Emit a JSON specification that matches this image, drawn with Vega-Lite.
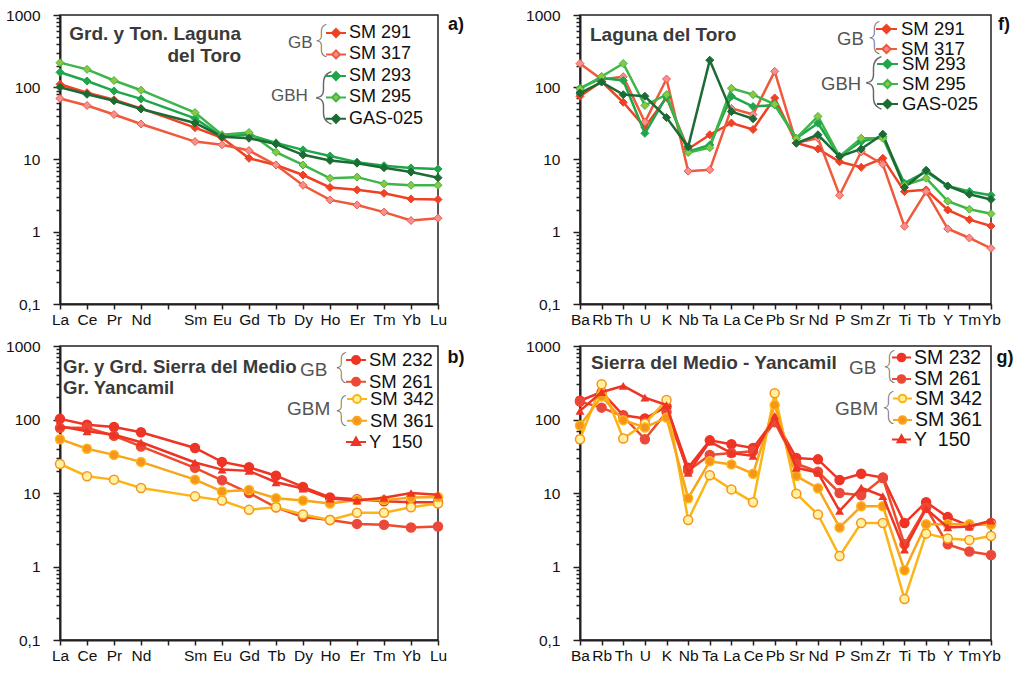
{
  "$schema": "https://vega.github.io/schema/vega-lite/v6.json",
  "autosize": {"type": "pad"},
  "padding": {"left": 4, "top": 7, "right": 5, "bottom": 5},
  "background": "white",
  "columns": 2,
  "spacing": {"row": 42, "column": 142},
  "bounds": "flush",
  "config": {
    "font": "Liberation Sans",
    "view": {"stroke": "#231f20", "strokeWidth": 1.5},
    "axis": {"grid": false, "domainColor": "#231f20", "domainWidth": 2, "tickColor": "#231f20", "tickWidth": 1.5, "labelFont": "Liberation Sans", "labelFontSize": 15.5, "labelColor": "#111111"},
    "legend": {"labelFont": "Liberation Sans", "titleFont": "Liberation Sans", "titleFontWeight": "normal", "titleColor": "#555555", "labelColor": "#111111", "orient": "none", "padding": 0, "titleOrient": "left", "titleAnchor": "middle", "titleBaseline": "middle", "symbolStrokeWidth": 2, "labelOffset": 2, "labelLimit": 200}
  },
  "datasets": {
    "a": [
      {"s":"SM 291","el":"La","v":110},{"s":"SM 291","el":"Ce","v":84},{"s":"SM 291","el":"Pr","v":67},{"s":"SM 291","el":"Nd","v":51},{"s":"SM 291","el":"Sm","v":27.6},{"s":"SM 291","el":"Eu","v":20},{"s":"SM 291","el":"Gd","v":10.4},{"s":"SM 291","el":"Tb","v":8.4},{"s":"SM 291","el":"Dy","v":6.1},{"s":"SM 291","el":"Ho","v":4.1},{"s":"SM 291","el":"Er","v":3.8},{"s":"SM 291","el":"Tm","v":3.4},{"s":"SM 291","el":"Yb","v":2.85},{"s":"SM 291","el":"Lu","v":2.8},
      {"s":"SM 317","el":"La","v":70},{"s":"SM 317","el":"Ce","v":56},{"s":"SM 317","el":"Pr","v":42},{"s":"SM 317","el":"Nd","v":31},{"s":"SM 317","el":"Sm","v":17.7},{"s":"SM 317","el":"Eu","v":16},{"s":"SM 317","el":"Gd","v":13.3},{"s":"SM 317","el":"Tb","v":8.4},{"s":"SM 317","el":"Dy","v":4.4},{"s":"SM 317","el":"Ho","v":2.76},{"s":"SM 317","el":"Er","v":2.35},{"s":"SM 317","el":"Tm","v":1.87},{"s":"SM 317","el":"Yb","v":1.43},{"s":"SM 317","el":"Lu","v":1.54},
      {"s":"SM 293","el":"La","v":161},{"s":"SM 293","el":"Ce","v":122},{"s":"SM 293","el":"Pr","v":89},{"s":"SM 293","el":"Nd","v":69},{"s":"SM 293","el":"Sm","v":37},{"s":"SM 293","el":"Eu","v":21},{"s":"SM 293","el":"Gd","v":22},{"s":"SM 293","el":"Tb","v":17},{"s":"SM 293","el":"Dy","v":13.6},{"s":"SM 293","el":"Ho","v":11.2},{"s":"SM 293","el":"Er","v":9.2},{"s":"SM 293","el":"Tm","v":8.2},{"s":"SM 293","el":"Yb","v":7.65},{"s":"SM 293","el":"Lu","v":7.4},
      {"s":"SM 295","el":"La","v":219},{"s":"SM 295","el":"Ce","v":177},{"s":"SM 295","el":"Pr","v":124},{"s":"SM 295","el":"Nd","v":91},{"s":"SM 295","el":"Sm","v":44.6},{"s":"SM 295","el":"Eu","v":22},{"s":"SM 295","el":"Gd","v":23.6},{"s":"SM 295","el":"Tb","v":12.6},{"s":"SM 295","el":"Dy","v":8.4},{"s":"SM 295","el":"Ho","v":5.5},{"s":"SM 295","el":"Er","v":5.7},{"s":"SM 295","el":"Tm","v":4.6},{"s":"SM 295","el":"Yb","v":4.4},{"s":"SM 295","el":"Lu","v":4.4},
      {"s":"GAS-025","el":"La","v":100},{"s":"GAS-025","el":"Ce","v":80},{"s":"GAS-025","el":"Pr","v":65},{"s":"GAS-025","el":"Nd","v":50},{"s":"GAS-025","el":"Sm","v":32},{"s":"GAS-025","el":"Eu","v":20.7},{"s":"GAS-025","el":"Gd","v":19.7},{"s":"GAS-025","el":"Tb","v":16.4},{"s":"GAS-025","el":"Dy","v":11.6},{"s":"GAS-025","el":"Ho","v":9.7},{"s":"GAS-025","el":"Er","v":8.9},{"s":"GAS-025","el":"Tm","v":7.7},{"s":"GAS-025","el":"Yb","v":6.7},{"s":"GAS-025","el":"Lu","v":5.6}
    ],
    "f": [
      {"s":"SM 291","el":"Ba","v":75},{"s":"SM 291","el":"Rb","v":120},{"s":"SM 291","el":"Th","v":62},{"s":"SM 291","el":"U","v":28},{"s":"SM 291","el":"K","v":72},{"s":"SM 291","el":"Nb","v":14},{"s":"SM 291","el":"Ta","v":22},{"s":"SM 291","el":"La","v":32},{"s":"SM 291","el":"Ce","v":26},{"s":"SM 291","el":"Pb","v":71},{"s":"SM 291","el":"Sr","v":17},{"s":"SM 291","el":"Nd","v":14},{"s":"SM 291","el":"P","v":9.3},{"s":"SM 291","el":"Sm","v":7.8},{"s":"SM 291","el":"Zr","v":10.4},{"s":"SM 291","el":"Ti","v":3.6},{"s":"SM 291","el":"Tb","v":3.8},{"s":"SM 291","el":"Y","v":2.0},{"s":"SM 291","el":"Tm","v":1.47},{"s":"SM 291","el":"Yb","v":1.2},
      {"s":"SM 317","el":"Ba","v":213},{"s":"SM 317","el":"Rb","v":128},{"s":"SM 317","el":"Th","v":140},{"s":"SM 317","el":"U","v":33},{"s":"SM 317","el":"K","v":130},{"s":"SM 317","el":"Nb","v":6.9},{"s":"SM 317","el":"Ta","v":7.2},{"s":"SM 317","el":"La","v":51},{"s":"SM 317","el":"Ce","v":42},{"s":"SM 317","el":"Pb","v":166},{"s":"SM 317","el":"Sr","v":17},{"s":"SM 317","el":"Nd","v":19.7},{"s":"SM 317","el":"P","v":3.2},{"s":"SM 317","el":"Sm","v":12.8},{"s":"SM 317","el":"Zr","v":8.6},{"s":"SM 317","el":"Ti","v":1.19},{"s":"SM 317","el":"Tb","v":3.6},{"s":"SM 317","el":"Y","v":1.1},{"s":"SM 317","el":"Tm","v":0.82},{"s":"SM 317","el":"Yb","v":0.59},
      {"s":"SM 293","el":"Ba","v":97},{"s":"SM 293","el":"Rb","v":134},{"s":"SM 293","el":"Th","v":124},{"s":"SM 293","el":"U","v":23},{"s":"SM 293","el":"K","v":75},{"s":"SM 293","el":"Nb","v":12.8},{"s":"SM 293","el":"Ta","v":15.9},{"s":"SM 293","el":"La","v":75},{"s":"SM 293","el":"Ce","v":54},{"s":"SM 293","el":"Pb","v":57},{"s":"SM 293","el":"Sr","v":19.7},{"s":"SM 293","el":"Nd","v":31.8},{"s":"SM 293","el":"P","v":11},{"s":"SM 293","el":"Sm","v":17.7},{"s":"SM 293","el":"Zr","v":20.8},{"s":"SM 293","el":"Ti","v":4.7},{"s":"SM 293","el":"Tb","v":6.8},{"s":"SM 293","el":"Y","v":4.3},{"s":"SM 293","el":"Tm","v":3.6},{"s":"SM 293","el":"Yb","v":3.2},
      {"s":"SM 295","el":"Ba","v":95},{"s":"SM 295","el":"Rb","v":141},{"s":"SM 295","el":"Th","v":213},{"s":"SM 295","el":"U","v":56},{"s":"SM 295","el":"K","v":79},{"s":"SM 295","el":"Nb","v":12.5},{"s":"SM 295","el":"Ta","v":14.6},{"s":"SM 295","el":"La","v":97},{"s":"SM 295","el":"Ce","v":79},{"s":"SM 295","el":"Pb","v":58},{"s":"SM 295","el":"Sr","v":19.7},{"s":"SM 295","el":"Nd","v":39.5},{"s":"SM 295","el":"P","v":11},{"s":"SM 295","el":"Sm","v":19.7},{"s":"SM 295","el":"Zr","v":19.7},{"s":"SM 295","el":"Ti","v":4.4},{"s":"SM 295","el":"Tb","v":5.5},{"s":"SM 295","el":"Y","v":2.65},{"s":"SM 295","el":"Tm","v":2.05},{"s":"SM 295","el":"Yb","v":1.78},
      {"s":"GAS-025","el":"Ba","v":83},{"s":"GAS-025","el":"Rb","v":118},{"s":"GAS-025","el":"Th","v":79},{"s":"GAS-025","el":"U","v":75},{"s":"GAS-025","el":"K","v":38},{"s":"GAS-025","el":"Nb","v":15},{"s":"GAS-025","el":"Ta","v":237},{"s":"GAS-025","el":"La","v":46},{"s":"GAS-025","el":"Ce","v":36.6},{"s":"GAS-025","el":"Pb","v":null},{"s":"GAS-025","el":"Sr","v":16.8},{"s":"GAS-025","el":"Nd","v":22},{"s":"GAS-025","el":"P","v":11},{"s":"GAS-025","el":"Sm","v":14},{"s":"GAS-025","el":"Zr","v":22.4},{"s":"GAS-025","el":"Ti","v":4.1},{"s":"GAS-025","el":"Tb","v":7.1},{"s":"GAS-025","el":"Y","v":4.3},{"s":"GAS-025","el":"Tm","v":3.3},{"s":"GAS-025","el":"Yb","v":2.8}
    ],
    "b": [
      {"s":"SM 232","el":"La","v":102},{"s":"SM 232","el":"Ce","v":85},{"s":"SM 232","el":"Pr","v":79},{"s":"SM 232","el":"Nd","v":67},{"s":"SM 232","el":"Sm","v":41},{"s":"SM 232","el":"Eu","v":26.5},{"s":"SM 232","el":"Gd","v":22.4},{"s":"SM 232","el":"Tb","v":17.2},{"s":"SM 232","el":"Dy","v":12.1},{"s":"SM 232","el":"Ho","v":8.7},{"s":"SM 232","el":"Er","v":8.2},{"s":"SM 232","el":"Tm","v":7.7},{"s":"SM 232","el":"Yb","v":7.5},{"s":"SM 232","el":"Lu","v":7.5},
      {"s":"SM 261","el":"La","v":77},{"s":"SM 261","el":"Ce","v":77},{"s":"SM 261","el":"Pr","v":60},{"s":"SM 261","el":"Nd","v":43},{"s":"SM 261","el":"Sm","v":22},{"s":"SM 261","el":"Eu","v":14.9},{"s":"SM 261","el":"Gd","v":10},{"s":"SM 261","el":"Tb","v":6.4},{"s":"SM 261","el":"Dy","v":4.7},{"s":"SM 261","el":"Ho","v":4.3},{"s":"SM 261","el":"Er","v":3.8},{"s":"SM 261","el":"Tm","v":3.7},{"s":"SM 261","el":"Yb","v":3.4},{"s":"SM 261","el":"Lu","v":3.5},
      {"s":"SM 342","el":"La","v":24.8},{"s":"SM 342","el":"Ce","v":16.9},{"s":"SM 342","el":"Pr","v":15.2},{"s":"SM 342","el":"Nd","v":11.7},{"s":"SM 342","el":"Sm","v":9},{"s":"SM 342","el":"Eu","v":7.9},{"s":"SM 342","el":"Gd","v":5.9},{"s":"SM 342","el":"Tb","v":6.4},{"s":"SM 342","el":"Dy","v":5.1},{"s":"SM 342","el":"Ho","v":4.3},{"s":"SM 342","el":"Er","v":5.4},{"s":"SM 342","el":"Tm","v":5.4},{"s":"SM 342","el":"Yb","v":6.4},{"s":"SM 342","el":"Lu","v":7.2},
      {"s":"SM 361","el":"La","v":54},{"s":"SM 361","el":"Ce","v":40},{"s":"SM 361","el":"Pr","v":33},{"s":"SM 361","el":"Nd","v":26.5},{"s":"SM 361","el":"Sm","v":15.2},{"s":"SM 361","el":"Eu","v":10.5},{"s":"SM 361","el":"Gd","v":11},{"s":"SM 361","el":"Tb","v":8.5},{"s":"SM 361","el":"Dy","v":7.9},{"s":"SM 361","el":"Ho","v":7.2},{"s":"SM 361","el":"Er","v":8},{"s":"SM 361","el":"Tm","v":8},{"s":"SM 361","el":"Yb","v":8.7},{"s":"SM 361","el":"Lu","v":8.8},
      {"s":"Y\u00a0\u00a0150","el":"La","v":81},{"s":"Y\u00a0\u00a0150","el":"Ce","v":69},{"s":"Y\u00a0\u00a0150","el":"Pr","v":62},{"s":"Y\u00a0\u00a0150","el":"Nd","v":49},{"s":"Y\u00a0\u00a0150","el":"Sm","v":26},{"s":"Y\u00a0\u00a0150","el":"Eu","v":20.8},{"s":"Y\u00a0\u00a0150","el":"Gd","v":20},{"s":"Y\u00a0\u00a0150","el":"Tb","v":14},{"s":"Y\u00a0\u00a0150","el":"Dy","v":11.5},{"s":"Y\u00a0\u00a0150","el":"Ho","v":8.4},{"s":"Y\u00a0\u00a0150","el":"Er","v":7.9},{"s":"Y\u00a0\u00a0150","el":"Tm","v":8.6},{"s":"Y\u00a0\u00a0150","el":"Yb","v":10},{"s":"Y\u00a0\u00a0150","el":"Lu","v":9.5}
    ],
    "g": [
      {"s":"SM 232","el":"Ba","v":180},{"s":"SM 232","el":"Rb","v":236},{"s":"SM 232","el":"Th","v":114},{"s":"SM 232","el":"U","v":103},{"s":"SM 232","el":"K","v":150},{"s":"SM 232","el":"Nb","v":22},{"s":"SM 232","el":"Ta","v":52},{"s":"SM 232","el":"La","v":46},{"s":"SM 232","el":"Ce","v":41},{"s":"SM 232","el":"Pb","v":100},{"s":"SM 232","el":"Sr","v":30},{"s":"SM 232","el":"Nd","v":28.7},{"s":"SM 232","el":"P","v":15},{"s":"SM 232","el":"Sm","v":18.3},{"s":"SM 232","el":"Zr","v":16.2},{"s":"SM 232","el":"Ti","v":3.9},{"s":"SM 232","el":"Tb","v":7.5},{"s":"SM 232","el":"Y","v":4.7},{"s":"SM 232","el":"Tm","v":3.6},{"s":"SM 232","el":"Yb","v":3.9},
      {"s":"SM 261","el":"Ba","v":175},{"s":"SM 261","el":"Rb","v":145},{"s":"SM 261","el":"Th","v":110},{"s":"SM 261","el":"U","v":54},{"s":"SM 261","el":"K","v":126},{"s":"SM 261","el":"Nb","v":20},{"s":"SM 261","el":"Ta","v":33},{"s":"SM 261","el":"La","v":35},{"s":"SM 261","el":"Ce","v":37},{"s":"SM 261","el":"Pb","v":92},{"s":"SM 261","el":"Sr","v":25},{"s":"SM 261","el":"Nd","v":19.5},{"s":"SM 261","el":"P","v":10},{"s":"SM 261","el":"Sm","v":9.3},{"s":"SM 261","el":"Zr","v":16},{"s":"SM 261","el":"Ti","v":2.0},{"s":"SM 261","el":"Tb","v":6.3},{"s":"SM 261","el":"Y","v":2.0},{"s":"SM 261","el":"Tm","v":1.6},{"s":"SM 261","el":"Yb","v":1.43},
      {"s":"SM 342","el":"Ba","v":54},{"s":"SM 342","el":"Rb","v":301},{"s":"SM 342","el":"Th","v":55},{"s":"SM 342","el":"U","v":88},{"s":"SM 342","el":"K","v":184},{"s":"SM 342","el":"Nb","v":4.3},{"s":"SM 342","el":"Ta","v":17.4},{"s":"SM 342","el":"La","v":11.2},{"s":"SM 342","el":"Ce","v":7.5},{"s":"SM 342","el":"Pb","v":228},{"s":"SM 342","el":"Sr","v":9.8},{"s":"SM 342","el":"Nd","v":5.1},{"s":"SM 342","el":"P","v":1.39},{"s":"SM 342","el":"Sm","v":3.9},{"s":"SM 342","el":"Zr","v":3.9},{"s":"SM 342","el":"Ti","v":0.36},{"s":"SM 342","el":"Tb","v":2.8},{"s":"SM 342","el":"Y","v":2.4},{"s":"SM 342","el":"Tm","v":2.3},{"s":"SM 342","el":"Yb","v":2.6},
      {"s":"SM 361","el":"Ba","v":83},{"s":"SM 361","el":"Rb","v":205},{"s":"SM 361","el":"Th","v":98},{"s":"SM 361","el":"U","v":78},{"s":"SM 361","el":"K","v":106},{"s":"SM 361","el":"Nb","v":8.5},{"s":"SM 361","el":"Ta","v":27},{"s":"SM 361","el":"La","v":24.5},{"s":"SM 361","el":"Ce","v":18.3},{"s":"SM 361","el":"Pb","v":157},{"s":"SM 361","el":"Sr","v":17},{"s":"SM 361","el":"Nd","v":11.6},{"s":"SM 361","el":"P","v":3.4},{"s":"SM 361","el":"Sm","v":6.6},{"s":"SM 361","el":"Zr","v":6.6},{"s":"SM 361","el":"Ti","v":0.89},{"s":"SM 361","el":"Tb","v":3.75},{"s":"SM 361","el":"Y","v":3.75},{"s":"SM 361","el":"Tm","v":3.75},{"s":"SM 361","el":"Yb","v":3.7},
      {"s":"Y\u00a0\u00a0150","el":"Ba","v":131},{"s":"Y\u00a0\u00a0150","el":"Rb","v":236},{"s":"Y\u00a0\u00a0150","el":"Th","v":286},{"s":"Y\u00a0\u00a0150","el":"U","v":198},{"s":"Y\u00a0\u00a0150","el":"K","v":157},{"s":"Y\u00a0\u00a0150","el":"Nb","v":18.8},{"s":"Y\u00a0\u00a0150","el":"Ta","v":50},{"s":"Y\u00a0\u00a0150","el":"La","v":35},{"s":"Y\u00a0\u00a0150","el":"Ce","v":32},{"s":"Y\u00a0\u00a0150","el":"Pb","v":112},{"s":"Y\u00a0\u00a0150","el":"Sr","v":22},{"s":"Y\u00a0\u00a0150","el":"Nd","v":19},{"s":"Y\u00a0\u00a0150","el":"P","v":5.7},{"s":"Y\u00a0\u00a0150","el":"Sm","v":11.8},{"s":"Y\u00a0\u00a0150","el":"Zr","v":9.1},{"s":"Y\u00a0\u00a0150","el":"Ti","v":1.7},{"s":"Y\u00a0\u00a0150","el":"Tb","v":6.1},{"s":"Y\u00a0\u00a0150","el":"Y","v":3.4},{"s":"Y\u00a0\u00a0150","el":"Tm","v":3.5},{"s":"Y\u00a0\u00a0150","el":"Yb","v":4.2}
    ]
  },
  "concat": [
    {
      "width": 378, "height": 289,
      "data": {"name": "a"},
      "encoding": {
        "x": {"field": "el", "type": "ordinal", "scale": {"type": "point", "padding": 0, "domain": ["La","Ce","Pr","Nd","Pm","Sm","Eu","Gd","Tb","Dy","Ho","Er","Tm","Yb","Lu"]}, "axis": {"title": null, "labelAngle": 0, "labelOverlap": false, "tickSize": 5, "labelPadding": 3, "labelExpr": "datum.value == 'Pm' ? '' : datum.value"}},
        "y": {"field": "v", "type": "quantitative", "scale": {"type": "log", "domain": [0.1, 1000], "nice": false}, "axis": {"title": null, "labelOverlap": false, "values": [0.1,0.2,0.3,0.4,0.5,0.6,0.7,0.8,0.9,1,2,3,4,5,6,7,8,9,10,20,30,40,50,60,70,80,90,100,200,300,400,500,600,700,800,900,1000], "labelExpr": "datum.value == 0.1 ? '0,1' : (indexof([1,10,100,1000], datum.value) >= 0 ? '' + datum.value : '')", "tickSize": {"condition": {"test": "indexof([0.1,1,10,100,1000], datum.value) >= 0", "value": 7}, "value": 4}, "labelPadding": 13}},
        "order": {"value": null}
      },
      "layer": [
        {
          "transform": [{"filter": {"field": "s", "oneOf": ["SM 291", "SM 317"]}}],
          "layer": [
            {"mark": {"type": "line", "strokeWidth": 2.5, "invalid": "break-paths-filter-domains"},
             "encoding": {"color": {"field": "s", "type": "nominal", "scale": {"domain": ["SM 291", "SM 317"], "range": ["#ef4123", "#f05a3c"]},
               "legend": {"title": "GB", "legendX": 228, "legendY": 7, "titlePadding": 12, "titleFontSize": 17, "labelFontSize": 18, "rowPadding": 1.4, "symbolSize": 400, "symbolType": "M-1,0L-0.4,0M0.4,0L1,0M0,-0.4L0.4,0L0,0.4L-0.4,0Z",
                 "encode": {"symbols": {"update": {"fill": {"signal": "{'SM 291':'#ef4123','SM 317':'#f48f96'}[datum.value]"}}}}}}}},
            {"mark": {"type": "point", "shape": "diamond", "filled": true, "size": 64, "strokeWidth": 1, "opacity": 1},
             "encoding": {"fill": {"field": "s", "type": "nominal", "scale": {"domain": ["SM 291", "SM 317"], "range": ["#ef4123", "#f48f96"]}, "legend": null},
                          "stroke": {"field": "s", "type": "nominal", "scale": {"domain": ["SM 291", "SM 317"], "range": ["#ef4123", "#f05a3c"]}, "legend": null}}}
          ]
        },
        {
          "transform": [{"filter": {"field": "s", "oneOf": ["SM 293", "SM 295", "GAS-025"]}}],
          "layer": [
            {"mark": {"type": "line", "strokeWidth": 2.5, "invalid": "break-paths-filter-domains"},
             "encoding": {"color": {"field": "s", "type": "nominal", "scale": {"domain": ["SM 293", "SM 295", "GAS-025"], "range": ["#1fa64b", "#3db54a", "#1c6b35"]},
               "legend": {"title": "GBH", "legendX": 211, "legendY": 50, "titlePadding": 17, "titleFontSize": 17, "labelFontSize": 18, "rowPadding": 1.4, "symbolSize": 400, "symbolType": "M-1,0L-0.4,0M0.4,0L1,0M0,-0.4L0.4,0L0,0.4L-0.4,0Z",
                 "encode": {"symbols": {"update": {"fill": {"signal": "{'SM 293':'#1fa64b','SM 295':'#8dc63f','GAS-025':'#1c6b35'}[datum.value]"}}}}}}}},
            {"mark": {"type": "point", "shape": "diamond", "filled": true, "size": 64, "strokeWidth": 1, "opacity": 1},
             "encoding": {"fill": {"field": "s", "type": "nominal", "scale": {"domain": ["SM 293", "SM 295", "GAS-025"], "range": ["#1fa64b", "#8dc63f", "#1c6b35"]}, "legend": null},
                          "stroke": {"field": "s", "type": "nominal", "scale": {"domain": ["SM 293", "SM 295", "GAS-025"], "range": ["#1fa64b", "#3db54a", "#1c6b35"]}, "legend": null}}}
          ]
        },
        {
          "transform": [{"filter": {"and": [{"field": "s", "equal": "SM 291"}, {"field": "el", "equal": "La"}]}}],
          "layer": [
            {"mark": {"type": "text", "align": "right", "baseline": "alphabetic", "dx": -8, "dy": 25, "fontSize": 19, "fontWeight": "bold", "color": "#3a3a3a", "lineHeight": 22, "text": ["Grd. y Ton. Laguna", "del Toro"]},
             "encoding": {"x": {"datum": "Gd", "type": "ordinal"}, "y": {"datum": 1000, "type": "quantitative"}}},
            {"mark": {"type": "text", "align": "center", "baseline": "middle", "dx": 18, "dy": 10, "fontSize": 18, "fontWeight": "bold", "color": "#111111", "text": "a)"},
             "encoding": {"x": {"datum": "Lu", "type": "ordinal"}, "y": {"datum": 1000, "type": "quantitative"}}},
            {"mark": {"type": "text", "align": "center", "baseline": "middle", "dx": -117, "dy": 25, "font": "Roboto", "fontWeight": 100, "fontSize": 34, "color": "#666666", "text": "{"},
             "encoding": {"x": {"datum": "Lu", "type": "ordinal"}, "y": {"datum": 1000, "type": "quantitative"}}},
            {"mark": {"type": "text", "align": "center", "baseline": "middle", "dx": -115, "dy": 82, "font": "Roboto", "fontWeight": 100, "fontSize": 54, "color": "#666666", "text": "{"},
             "encoding": {"x": {"datum": "Lu", "type": "ordinal"}, "y": {"datum": 1000, "type": "quantitative"}}}
          ]
        }
      ],
      "resolve": {"scale": {"color": "independent", "fill": "independent", "stroke": "independent"}}
    },
    {
      "width": 411, "height": 289,
      "data": {"name": "f"},
      "encoding": {
        "x": {"field": "el", "type": "ordinal", "scale": {"type": "point", "padding": 0, "domain": ["Ba","Rb","Th","U","K","Nb","Ta","La","Ce","Pb","Sr","Nd","P","Sm","Zr","Ti","Tb","Y","Tm","Yb"]}, "axis": {"title": null, "labelAngle": 0, "labelOverlap": false, "tickSize": 5, "labelPadding": 3}},
        "y": {"field": "v", "type": "quantitative", "scale": {"type": "log", "domain": [0.1, 1000], "nice": false}, "axis": {"title": null, "labelOverlap": false, "values": [0.1,0.2,0.3,0.4,0.5,0.6,0.7,0.8,0.9,1,2,3,4,5,6,7,8,9,10,20,30,40,50,60,70,80,90,100,200,300,400,500,600,700,800,900,1000], "labelExpr": "datum.value == 0.1 ? '0,1' : (indexof([1,10,100,1000], datum.value) >= 0 ? '' + datum.value : '')", "tickSize": {"condition": {"test": "indexof([0.1,1,10,100,1000], datum.value) >= 0", "value": 7}, "value": 4}, "labelPadding": 13}},
        "order": {"value": null}
      },
      "layer": [
        {
          "transform": [{"filter": {"field": "s", "oneOf": ["SM 291", "SM 317"]}}],
          "layer": [
            {"mark": {"type": "line", "strokeWidth": 2.5, "invalid": "break-paths-filter-domains"},
             "encoding": {"color": {"field": "s", "type": "nominal", "scale": {"domain": ["SM 291", "SM 317"], "range": ["#ef4123", "#f05a3c"]},
               "legend": {"title": "GB", "legendX": 257, "legendY": 3.5, "titlePadding": 12, "titleFontSize": 18.5, "labelFontSize": 18.5, "labelOffset": 4, "rowPadding": 0, "symbolSize": 342, "symbolType": "M-1.135,0L-0.45,0M0.45,0L1.135,0M0,-0.45L0.45,0L0,0.45L-0.45,0Z",
                 "encode": {"symbols": {"update": {"fill": {"signal": "{'SM 291':'#ef4123','SM 317':'#f48f96'}[datum.value]"}}}}}}}},
            {"mark": {"type": "point", "shape": "diamond", "filled": true, "size": 64, "strokeWidth": 1, "opacity": 1},
             "encoding": {"fill": {"field": "s", "type": "nominal", "scale": {"domain": ["SM 291", "SM 317"], "range": ["#ef4123", "#f48f96"]}, "legend": null},
                          "stroke": {"field": "s", "type": "nominal", "scale": {"domain": ["SM 291", "SM 317"], "range": ["#ef4123", "#f05a3c"]}, "legend": null}}}
          ]
        },
        {
          "transform": [{"filter": {"field": "s", "oneOf": ["SM 293", "SM 295", "GAS-025"]}}],
          "layer": [
            {"mark": {"type": "line", "strokeWidth": 2.5, "invalid": "break-paths-filter-domains"},
             "encoding": {"color": {"field": "s", "type": "nominal", "scale": {"domain": ["SM 293", "SM 295", "GAS-025"], "range": ["#1fa64b", "#3db54a", "#1c6b35"]},
               "legend": {"title": "GBH", "legendX": 241, "legendY": 38.5, "titlePadding": 15, "titleFontSize": 18.5, "labelFontSize": 18.5, "labelOffset": 4, "rowPadding": 0, "symbolSize": 342, "symbolType": "M-1.135,0L-0.45,0M0.45,0L1.135,0M0,-0.45L0.45,0L0,0.45L-0.45,0Z",
                 "encode": {"symbols": {"update": {"fill": {"signal": "{'SM 293':'#1fa64b','SM 295':'#8dc63f','GAS-025':'#1c6b35'}[datum.value]"}}}}}}}},
            {"mark": {"type": "point", "shape": "diamond", "filled": true, "size": 64, "strokeWidth": 1, "opacity": 1},
             "encoding": {"fill": {"field": "s", "type": "nominal", "scale": {"domain": ["SM 293", "SM 295", "GAS-025"], "range": ["#1fa64b", "#8dc63f", "#1c6b35"]}, "legend": null},
                          "stroke": {"field": "s", "type": "nominal", "scale": {"domain": ["SM 293", "SM 295", "GAS-025"], "range": ["#1fa64b", "#3db54a", "#1c6b35"]}, "legend": null}}}
          ]
        },
        {
          "transform": [{"filter": {"and": [{"field": "s", "equal": "SM 291"}, {"field": "el", "equal": "Ba"}]}}],
          "layer": [
            {"mark": {"type": "text", "align": "left", "baseline": "alphabetic", "dx": 10, "dy": 25.5, "fontSize": 19, "fontWeight": "bold", "color": "#3a3a3a", "text": "Laguna del Toro"},
             "encoding": {"x": {"datum": "Ba", "type": "ordinal"}, "y": {"datum": 1000, "type": "quantitative"}}},
            {"mark": {"type": "text", "align": "center", "baseline": "middle", "dx": 13, "dy": 10, "fontSize": 18, "fontWeight": "bold", "color": "#111111", "text": "f)"},
             "encoding": {"x": {"datum": "Yb", "type": "ordinal"}, "y": {"datum": 1000, "type": "quantitative"}}},
            {"mark": {"type": "text", "align": "center", "baseline": "middle", "dx": -117, "dy": 22, "font": "Roboto", "fontWeight": 100, "fontSize": 34, "color": "#666666", "text": "{"},
             "encoding": {"x": {"datum": "Yb", "type": "ordinal"}, "y": {"datum": 1000, "type": "quantitative"}}},
            {"mark": {"type": "text", "align": "center", "baseline": "middle", "dx": -118, "dy": 67, "font": "Roboto", "fontWeight": 100, "fontSize": 54, "color": "#666666", "text": "{"},
             "encoding": {"x": {"datum": "Yb", "type": "ordinal"}, "y": {"datum": 1000, "type": "quantitative"}}}
          ]
        }
      ],
      "resolve": {"scale": {"color": "independent", "fill": "independent", "stroke": "independent"}}
    },
    {
      "width": 378, "height": 294,
      "data": {"name": "b"},
      "encoding": {
        "x": {"field": "el", "type": "ordinal", "scale": {"type": "point", "padding": 0, "domain": ["La","Ce","Pr","Nd","Pm","Sm","Eu","Gd","Tb","Dy","Ho","Er","Tm","Yb","Lu"]}, "axis": {"title": null, "labelAngle": 0, "labelOverlap": false, "tickSize": 5, "labelPadding": 3, "labelExpr": "datum.value == 'Pm' ? '' : datum.value"}},
        "y": {"field": "v", "type": "quantitative", "scale": {"type": "log", "domain": [0.1, 1000], "nice": false}, "axis": {"title": null, "labelOverlap": false, "values": [0.1,0.2,0.3,0.4,0.5,0.6,0.7,0.8,0.9,1,2,3,4,5,6,7,8,9,10,20,30,40,50,60,70,80,90,100,200,300,400,500,600,700,800,900,1000], "labelExpr": "datum.value == 0.1 ? '0,1' : (indexof([1,10,100,1000], datum.value) >= 0 ? '' + datum.value : '')", "tickSize": {"condition": {"test": "indexof([0.1,1,10,100,1000], datum.value) >= 0", "value": 7}, "value": 4}, "labelPadding": 13}},
        "order": {"value": null}
      },
      "layer": [
        {
          "transform": [{"filter": {"field": "s", "oneOf": ["SM 232", "SM 261"]}}],
          "layer": [
            {"mark": {"type": "line", "strokeWidth": 2.5},
             "encoding": {"color": {"field": "s", "type": "nominal", "scale": {"domain": ["SM 232", "SM 261"], "range": ["#ee3424", "#ef4a2e"]},
               "legend": {"title": "GB", "legendX": 240, "legendY": 3, "titlePadding": 17, "titleFontSize": 19, "labelFontSize": 18.5, "rowPadding": 0.8, "symbolSize": 400, "symbolType": "M-1,0L-0.4,0M0.4,0L1,0M0.4,0A0.4,0.4,0,1,1,-0.4,0A0.4,0.4,0,1,1,0.4,0Z",
                 "encode": {"symbols": {"update": {"fill": {"signal": "{'SM 232':'#ee3424','SM 261':'#e9473f'}[datum.value]"}}}}}}}},
            {"mark": {"type": "point", "shape": "circle", "filled": true, "size": 81, "strokeWidth": 1.5, "opacity": 1},
             "encoding": {"fill": {"field": "s", "type": "nominal", "scale": {"domain": ["SM 232", "SM 261"], "range": ["#ee3424", "#e9473f"]}, "legend": null},
                          "stroke": {"field": "s", "type": "nominal", "scale": {"domain": ["SM 232", "SM 261"], "range": ["#ee3424", "#ef4a2e"]}, "legend": null}}}
          ]
        },
        {
          "transform": [{"filter": {"field": "s", "oneOf": ["SM 342", "SM 361"]}}],
          "layer": [
            {"mark": {"type": "line", "strokeWidth": 2.5},
             "encoding": {"color": {"field": "s", "type": "nominal", "scale": {"domain": ["SM 342", "SM 361"], "range": ["#fbb516", "#f9a51b"]},
               "legend": {"title": "GBM", "legendX": 227, "legendY": 42, "titlePadding": 15, "titleFontSize": 19, "labelFontSize": 18.5, "rowPadding": 0.8, "symbolSize": 400, "symbolType": "M-1,0L-0.4,0M0.4,0L1,0M0.4,0A0.4,0.4,0,1,1,-0.4,0A0.4,0.4,0,1,1,0.4,0Z",
                 "encode": {"symbols": {"update": {"fill": {"signal": "{'SM 342':'#fff1a0','SM 361':'#f7941d'}[datum.value]"}}}}}}}},
            {"mark": {"type": "point", "shape": "circle", "filled": true, "size": 81, "strokeWidth": 1.5, "opacity": 1},
             "encoding": {"fill": {"field": "s", "type": "nominal", "scale": {"domain": ["SM 342", "SM 361"], "range": ["#fff1a0", "#f7941d"]}, "legend": null},
                          "stroke": {"field": "s", "type": "nominal", "scale": {"domain": ["SM 342", "SM 361"], "range": ["#f7941d", "#fdb913"]}, "legend": null}}}
          ]
        },
        {
          "transform": [{"filter": {"field": "s", "oneOf": ["Y\u00a0\u00a0150"]}}],
          "layer": [
            {"mark": {"type": "line", "strokeWidth": 2.5},
             "encoding": {"color": {"field": "s", "type": "nominal", "scale": {"domain": ["Y\u00a0\u00a0150"], "range": ["#ee3424"]},
               "legend": {"title": null, "legendX": 285, "legendY": 85, "labelFontSize": 18.5, "symbolSize": 400, "symbolType": "M-1,0L1,0M0,-0.45L0.42,0.3L-0.42,0.3Z",
                 "encode": {"symbols": {"update": {"fill": {"value": "#ee3424"}}}}}}}},
            {"mark": {"type": "point", "shape": "triangle-up", "filled": true, "size": 80, "strokeWidth": 1, "opacity": 1, "color": "#ee3424"}}
          ]
        },
        {
          "transform": [{"filter": {"and": [{"field": "s", "equal": "SM 232"}, {"field": "el", "equal": "La"}]}}],
          "layer": [
            {"mark": {"type": "text", "align": "left", "baseline": "alphabetic", "dx": 3, "dy": 26.5, "fontSize": 18.6, "fontWeight": "bold", "color": "#3a3a3a", "lineHeight": 21, "text": ["Gr. y Grd. Sierra del Medio", "Gr. Yancamil"]},
             "encoding": {"x": {"datum": "La", "type": "ordinal"}, "y": {"datum": 1000, "type": "quantitative"}}},
            {"mark": {"type": "text", "align": "center", "baseline": "middle", "dx": 18, "dy": 12, "fontSize": 18, "fontWeight": "bold", "color": "#111111", "text": "b)"},
             "encoding": {"x": {"datum": "Lu", "type": "ordinal"}, "y": {"datum": 1000, "type": "quantitative"}}},
            {"mark": {"type": "text", "align": "center", "baseline": "middle", "dx": -97, "dy": 21, "font": "Roboto", "fontWeight": 100, "fontSize": 32, "color": "#666666", "text": "{"},
             "encoding": {"x": {"datum": "Lu", "type": "ordinal"}, "y": {"datum": 1000, "type": "quantitative"}}},
            {"mark": {"type": "text", "align": "center", "baseline": "middle", "dx": -97, "dy": 64, "font": "Roboto", "fontWeight": 100, "fontSize": 32, "color": "#666666", "text": "{"},
             "encoding": {"x": {"datum": "Lu", "type": "ordinal"}, "y": {"datum": 1000, "type": "quantitative"}}}
          ]
        }
      ],
      "resolve": {"scale": {"color": "independent", "fill": "independent", "stroke": "independent"}}
    },
    {
      "width": 411, "height": 294,
      "data": {"name": "g"},
      "encoding": {
        "x": {"field": "el", "type": "ordinal", "scale": {"type": "point", "padding": 0, "domain": ["Ba","Rb","Th","U","K","Nb","Ta","La","Ce","Pb","Sr","Nd","P","Sm","Zr","Ti","Tb","Y","Tm","Yb"]}, "axis": {"title": null, "labelAngle": 0, "labelOverlap": false, "tickSize": 5, "labelPadding": 3}},
        "y": {"field": "v", "type": "quantitative", "scale": {"type": "log", "domain": [0.1, 1000], "nice": false}, "axis": {"title": null, "labelOverlap": false, "values": [0.1,0.2,0.3,0.4,0.5,0.6,0.7,0.8,0.9,1,2,3,4,5,6,7,8,9,10,20,30,40,50,60,70,80,90,100,200,300,400,500,600,700,800,900,1000], "labelExpr": "datum.value == 0.1 ? '0,1' : (indexof([1,10,100,1000], datum.value) >= 0 ? '' + datum.value : '')", "tickSize": {"condition": {"test": "indexof([0.1,1,10,100,1000], datum.value) >= 0", "value": 7}, "value": 4}, "labelPadding": 13}},
        "order": {"value": null}
      },
      "layer": [
        {
          "transform": [{"filter": {"field": "s", "oneOf": ["SM 232", "SM 261"]}}],
          "layer": [
            {"mark": {"type": "line", "strokeWidth": 2.5},
             "encoding": {"color": {"field": "s", "type": "nominal", "scale": {"domain": ["SM 232", "SM 261"], "range": ["#ee3424", "#ef4a2e"]},
               "legend": {"title": "GB", "legendX": 269, "legendY": 1, "titlePadding": 14, "titleFontSize": 19, "labelFontSize": 19.5, "rowPadding": 1.5, "symbolSize": 361, "symbolType": "M-1,0L-0.4,0M0.4,0L1,0M0.4,0A0.4,0.4,0,1,1,-0.4,0A0.4,0.4,0,1,1,0.4,0Z",
                 "encode": {"symbols": {"update": {"fill": {"signal": "{'SM 232':'#ee3424','SM 261':'#e9473f'}[datum.value]"}}}}}}}},
            {"mark": {"type": "point", "shape": "circle", "filled": true, "size": 81, "strokeWidth": 1.5, "opacity": 1},
             "encoding": {"fill": {"field": "s", "type": "nominal", "scale": {"domain": ["SM 232", "SM 261"], "range": ["#ee3424", "#e9473f"]}, "legend": null},
                          "stroke": {"field": "s", "type": "nominal", "scale": {"domain": ["SM 232", "SM 261"], "range": ["#ee3424", "#ef4a2e"]}, "legend": null}}}
          ]
        },
        {
          "transform": [{"filter": {"field": "s", "oneOf": ["SM 342", "SM 361"]}}],
          "layer": [
            {"mark": {"type": "line", "strokeWidth": 2.5},
             "encoding": {"color": {"field": "s", "type": "nominal", "scale": {"domain": ["SM 342", "SM 361"], "range": ["#fbb516", "#f9a51b"]},
               "legend": {"title": "GBM", "legendX": 255, "legendY": 42, "titlePadding": 13, "titleFontSize": 19, "labelFontSize": 19.5, "rowPadding": 1.5, "symbolSize": 361, "symbolType": "M-1,0L-0.4,0M0.4,0L1,0M0.4,0A0.4,0.4,0,1,1,-0.4,0A0.4,0.4,0,1,1,0.4,0Z",
                 "encode": {"symbols": {"update": {"fill": {"signal": "{'SM 342':'#fff1a0','SM 361':'#f7941d'}[datum.value]"}}}}}}}},
            {"mark": {"type": "point", "shape": "circle", "filled": true, "size": 81, "strokeWidth": 1.5, "opacity": 1},
             "encoding": {"fill": {"field": "s", "type": "nominal", "scale": {"domain": ["SM 342", "SM 361"], "range": ["#fff1a0", "#f7941d"]}, "legend": null},
                          "stroke": {"field": "s", "type": "nominal", "scale": {"domain": ["SM 342", "SM 361"], "range": ["#f7941d", "#fdb913"]}, "legend": null}}}
          ]
        },
        {
          "transform": [{"filter": {"field": "s", "oneOf": ["Y\u00a0\u00a0150"]}}],
          "layer": [
            {"mark": {"type": "line", "strokeWidth": 2.5},
             "encoding": {"color": {"field": "s", "type": "nominal", "scale": {"domain": ["Y\u00a0\u00a0150"], "range": ["#ee3424"]},
               "legend": {"title": null, "legendX": 311, "legendY": 83, "labelFontSize": 19.5, "symbolSize": 361, "symbolType": "M-1,0L1,0M0,-0.45L0.42,0.3L-0.42,0.3Z",
                 "encode": {"symbols": {"update": {"fill": {"value": "#ee3424"}}}}}}}},
            {"mark": {"type": "point", "shape": "triangle-up", "filled": true, "size": 80, "strokeWidth": 1, "opacity": 1, "color": "#ee3424"}}
          ]
        },
        {
          "transform": [{"filter": {"and": [{"field": "s", "equal": "SM 232"}, {"field": "el", "equal": "Ba"}]}}],
          "layer": [
            {"mark": {"type": "text", "align": "left", "baseline": "alphabetic", "dx": 11, "dy": 23, "fontSize": 19, "fontWeight": "bold", "color": "#3a3a3a", "text": "Sierra del Medio - Yancamil"},
             "encoding": {"x": {"datum": "Ba", "type": "ordinal"}, "y": {"datum": 1000, "type": "quantitative"}}},
            {"mark": {"type": "text", "align": "center", "baseline": "middle", "dx": 14, "dy": 12, "fontSize": 18, "fontWeight": "bold", "color": "#111111", "text": "g)"},
             "encoding": {"x": {"datum": "Yb", "type": "ordinal"}, "y": {"datum": 1000, "type": "quantitative"}}},
            {"mark": {"type": "text", "align": "center", "baseline": "middle", "dx": -102, "dy": 20, "font": "Roboto", "fontWeight": 100, "fontSize": 33, "color": "#666666", "text": "{"},
             "encoding": {"x": {"datum": "Yb", "type": "ordinal"}, "y": {"datum": 1000, "type": "quantitative"}}},
            {"mark": {"type": "text", "align": "center", "baseline": "middle", "dx": -103, "dy": 61, "font": "Roboto", "fontWeight": 100, "fontSize": 33, "color": "#666666", "text": "{"},
             "encoding": {"x": {"datum": "Yb", "type": "ordinal"}, "y": {"datum": 1000, "type": "quantitative"}}}
          ]
        }
      ],
      "resolve": {"scale": {"color": "independent", "fill": "independent", "stroke": "independent"}}
    }
  ]
}
